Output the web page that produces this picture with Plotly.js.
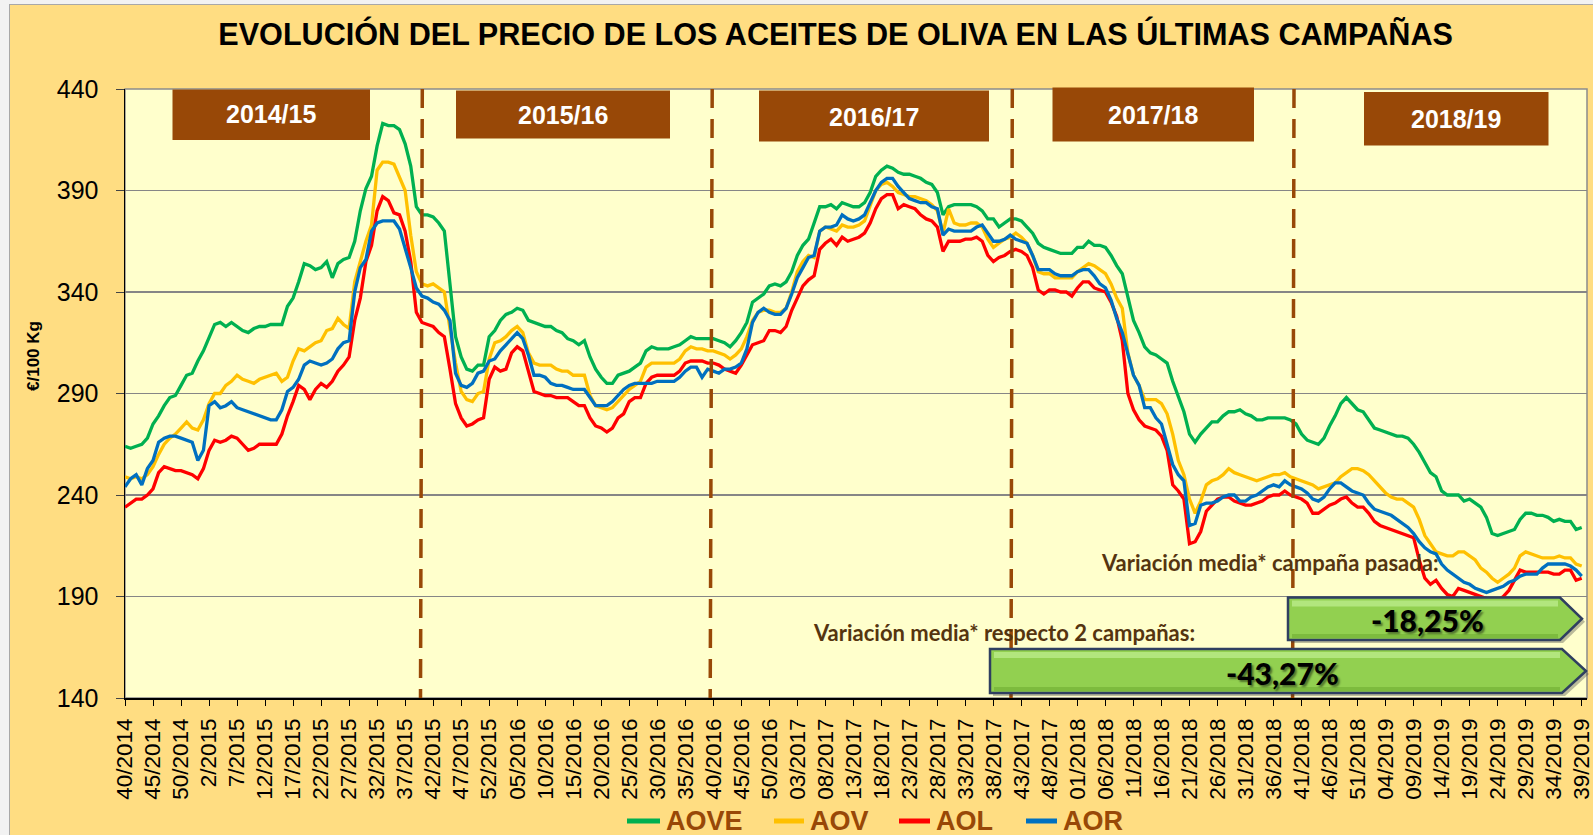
<!DOCTYPE html>
<html><head><meta charset="utf-8">
<script src="https://cdn.plot.ly/plotly-3.0.1.min.js"></script>
<style>
html,body{margin:0;padding:0;background:#F2F2F2;width:1593px;height:835px;overflow:hidden;}
#wrap{position:absolute;left:9px;top:4px;width:1584px;height:831px;border-left:1px solid #A8A8A8;border-top:1px solid #A8A8A8;box-sizing:border-box;}
#chart{width:1583px;height:830px;}
</style></head><body><div id="wrap"><div id="chart"></div></div>
<script>
// ---------- DATA ----------
const tickLabels = ['40/2014','45/2014','50/2014','2/2015','7/2015','12/2015','17/2015','22/2015','27/2015','32/2015','37/2015','42/2015','47/2015','52/2015','05/2016','10/2016','15/2016','20/2016','25/2016','30/2016','35/2016','40/2016','45/2016','50/2016','03/2017','08/2017','13/2017','18/2017','23/2017','28/2017','33/2017','38/2017','43/2017','48/2017','01/2018','06/2018','11/2018','16/2018','21/2018','26/2018','31/2018','36/2018','41/2018','46/2018','51/2018','04/2019','09/2019','14/2019','19/2019','24/2019','29/2019','34/2019','39/2019'];
const campaigns = ['2014/15','2015/16','2016/17','2017/18','2018/19'];
const seriesNames = ['AOVE','AOV','AOL','AOR'];

const aove = [
264,263,264,265,268,275,279,284,288,289,
294,299,300,306,311,318,324,325,323,325,
323,321,320,322,323,323,324,324,324,333,
337,345,354,353,351,352,355,347,354,356,
357,365,380,391,397,412,423,422,422,420,
413,402,382,378,378,377,374,370,345,318,
308,302,301,304,304,318,321,326,329,330,
332,331,326,325,324,323,323,321,320,317,
316,314,316,308,302,298,295,295,299,300,
301,303,305,311,313,312,312,312,313,314,
316,318,317,317,317,317,316,315,313,316,
320,325,335,337,339,343,344,343,345,350,
358,363,366,374,382,382,383,381,384,383,
382,382,384,389,397,400,402,401,399,398,
398,397,396,394,393,389,378,382,383,383,
383,383,382,380,376,376,372,374,376,376,
375,372,369,364,362,361,360,359,359,359,
362,362,365,363,363,362,358,353,349,337,
326,320,313,310,309,307,305,296,288,281,
270,266,270,273,276,276,279,281,281,282,
280,279,277,277,278,278,278,278,277,275,
270,267,266,265,268,274,279,285,288,285,
282,281,277,273,272,271,270,269,269,268,
265,261,256,251,249,242,240,240,240,237,
238,236,234,229,221,220,221,222,223,228,
231,231,230,230,229,227,228,227,227,223,224];

const aov = [
249,248,249,248,250,254,260,265,268,270,
273,276,273,272,277,285,290,290,294,296,
299,297,296,295,297,298,299,300,296,298,
306,312,311,313,315,316,321,322,327,324,
322,345,355,365,373,400,404,404,403,396,
390,368,350,344,343,344,342,340,322,305,
291,287,286,290,291,307,315,316,318,321,
323,320,310,305,304,304,304,302,301,301,
299,299,299,289,284,283,282,283,286,289,
292,294,296,303,305,305,305,305,305,307,
311,313,312,312,311,311,310,309,307,309,
312,318,326,330,331,331,330,330,332,340,
350,355,358,357,370,372,371,370,373,372,
372,373,375,382,390,393,394,392,389,388,
387,387,386,385,383,380,369,381,374,373,
373,374,374,372,366,362,364,366,367,369,
367,364,358,350,349,349,347,347,347,347,
350,352,354,353,351,349,344,337,332,310,
299,294,287,287,287,285,280,270,257,250,
238,231,237,245,247,248,250,253,251,250,
249,248,247,248,249,250,250,251,249,248,
247,246,245,243,244,245,246,249,251,253,
253,252,250,247,244,241,239,238,238,236,
234,228,220,216,212,211,210,210,212,212,
210,208,204,202,199,197,199,201,204,210,
212,211,210,209,209,209,210,209,209,206,205];

const aol = [
234,236,238,238,240,243,251,254,253,252,
252,251,250,248,253,262,267,266,267,269,
268,265,262,263,265,265,265,265,270,279,
286,294,292,287,292,295,293,296,301,304,
308,326,337,355,363,380,387,385,379,378,
370,355,330,325,324,323,320,318,302,285,
278,274,275,277,278,297,303,301,302,310,
313,311,301,291,290,289,289,288,288,288,
286,284,284,278,274,273,271,273,278,280,
286,288,288,295,298,299,299,299,299,301,
305,306,306,306,305,305,304,302,301,300,
304,309,314,315,316,321,321,320,323,331,
337,343,346,348,361,364,366,363,367,365,
366,367,369,374,381,386,388,388,381,383,
382,381,378,376,375,372,360,365,365,365,
366,366,367,365,358,355,357,358,360,361,
360,358,352,341,339,341,341,340,340,338,
342,345,345,342,341,340,335,328,316,290,
282,277,274,273,272,269,262,245,242,238,
216,217,222,232,235,238,239,239,237,236,
235,235,236,237,239,240,240,242,240,239,
238,236,231,231,233,235,236,238,239,236,
234,234,231,227,225,224,223,222,221,220,
219,208,199,196,198,194,191,190,194,193,
192,191,190,189,188,188,190,193,198,203,
202,202,202,202,202,201,201,203,203,198,199];

const aor = [
244,248,250,245,253,257,266,268,269,269,
268,267,266,257,262,284,286,283,284,286,
283,282,281,280,279,278,277,277,282,291,
293,297,304,306,305,304,305,307,312,315,
316,340,352,356,370,374,375,375,375,371,
362,352,342,338,337,335,334,331,326,300,
294,293,295,300,301,306,307,311,314,317,
320,317,309,299,299,298,295,294,294,293,
292,292,292,288,284,284,284,286,289,292,
294,295,295,295,295,296,296,296,296,298,
301,303,303,298,302,301,300,302,302,303,
305,312,325,330,332,330,329,329,332,339,
347,352,357,358,370,372,372,373,378,376,
375,376,378,384,390,394,396,396,392,389,
386,385,384,384,382,381,368,371,370,370,
370,370,372,373,369,365,365,366,368,366,
365,364,358,351,351,351,349,348,348,348,
350,351,351,348,344,342,336,327,320,310,
299,294,283,283,278,275,265,255,250,247,
225,226,235,236,236,237,239,240,240,237,
237,239,240,242,244,245,244,247,245,244,
243,241,238,237,239,243,246,246,244,242,
241,240,236,233,232,231,230,228,226,224,
221,217,214,212,211,206,203,201,199,197,
196,194,193,192,193,194,195,197,198,200,
201,201,201,204,206,206,206,206,205,203,200];

const variationLabels = ['Variación media* campaña pasada:','Variación media* respecto 2 campañas:'];
const variationValues = ['-18,25%','-43,27%'];

// ---------- LAYOUT HELPERS (page pixels -> paper) ----------
const PL=125, PR=1587, PT=89, PB=698;
const xp = px => (px-PL)/(PR-PL);
const yp = py => (PB-py)/(PB-PT);

const weeks = aove.map((_, i) => i);
const colors = ['#00B050','#FFC000','#FF0000','#0070C0'];
const data = [aove, aov, aol, aor].map((ys, k) => ({
  x: weeks, y: ys, type: 'scatter', mode: 'lines', name: seriesNames[k],
  line: {color: colors[k], width: 3.3}, hoverinfo: 'skip', showlegend: false
}));

const brown = '#984807';
const shapes = [];
const annotations = [];

// plot border (top/right gray)
shapes.push({type:'rect', xref:'paper', yref:'paper', x0:0, x1:1, y0:0, y1:1,
  line:{color:'#8C8C8C', width:1.5}, layer:'below'});

// campaign dashed separators
[[422.3,420.5],[712.2,710.2],[1012.3,1011],[1294,1292.6]].forEach(([top,bot]) => {
  shapes.push({type:'line', xref:'paper', yref:'paper', x0:xp(top), y0:1, x1:xp(bot), y1:0,
    line:{color:brown, width:3.5, dash:'19px,11px'}, layer:'above'});
});

// campaign boxes
const boxes = [[172.5,370,89.5,140,114],[456,670,90.5,138.5,115],[759,989,90.5,141.5,116.5],[1052.5,1254,87.5,141.5,115],[1364,1548.5,92,145.5,119]];
boxes.forEach(([x0,x1,y0,y1,ty], k) => {
  shapes.push({type:'rect', xref:'paper', yref:'paper', x0:xp(x0), x1:xp(x1), y0:yp(y1), y1:yp(y0),
    fillcolor:brown, line:{width:0}, layer:'above'});
  annotations.push({xref:'paper', yref:'paper', x:xp((x0+x1)/2), y:yp(ty), text:'<b>'+campaigns[k]+'</b>',
    showarrow:false, xanchor:'center', yanchor:'middle',
    font:{family:'Liberation Sans, Arial, sans-serif', size:25, color:'#FFFFFF'}});
});

// green arrow boxes
function arrowPath(x0, xr, xt, y0, y1){
  const ym = (y0+y1)/2;
  return `M ${xp(x0)},${yp(y0)} L ${xp(xr)},${yp(y0)} L ${xp(xt)},${yp(ym)} L ${xp(xr)},${yp(y1)} L ${xp(x0)},${yp(y1)} Z`;
}
function rectPath(x0, x1, y0, y1){
  return `M ${xp(x0)},${yp(y0)} L ${xp(x1)},${yp(y0)} L ${xp(x1)},${yp(y1)} L ${xp(x0)},${yp(y1)} Z`;
}
const arrows = [[1288,1560,1582,597.5,640,1427,620],[990,1562,1586,649,693,1282,673]];
arrows.forEach(([x0,xr,xt,y0,y1,tx,ty], k) => {
  shapes.push({type:'path', xref:'paper', yref:'paper', path:arrowPath(x0+3,xr+3,xt+3,y0+3,y1+3),
    fillcolor:'rgba(60,60,60,0.35)', line:{width:0}, layer:'above'});
  shapes.push({type:'path', xref:'paper', yref:'paper', path:arrowPath(x0,xr,xt,y0,y1),
    fillcolor:'#92D050', line:{color:'#2F3F60', width:2.5}, layer:'above'});
  shapes.push({type:'path', xref:'paper', yref:'paper', path:rectPath(x0+4, xr-2, y0+3, y0+9),
    fillcolor:'#B2E67E', line:{width:0}, layer:'above'});
  shapes.push({type:'path', xref:'paper', yref:'paper', path:rectPath(x0+4, xr-2, y1-6, y1-2),
    fillcolor:'#7DBB3E', line:{width:0}, layer:'above'});
  annotations.push({xref:'paper', yref:'paper', x:xp(tx), y:yp(ty), text:variationValues[k],
    showarrow:false, xanchor:'center', yanchor:'middle',
    font:{family:'Lato, Open Sans, sans-serif', size:30, color:'#000000', weight:900,
      shadow:'2px 2px 2px rgba(0,0,0,0.45)'}});
});

// variation labels
annotations.push({xref:'paper', yref:'paper', x:xp(1099), y:yp(562), text:'<b>'+variationLabels[0]+'</b>',
  showarrow:false, xanchor:'left', yanchor:'middle', font:{family:'Lato, sans-serif', size:22, color:'#55340F'}});
annotations.push({xref:'paper', yref:'paper', x:xp(811), y:yp(632), text:'<b>'+variationLabels[1]+'</b>',
  showarrow:false, xanchor:'left', yanchor:'middle', font:{family:'Lato, sans-serif', size:22, color:'#55340F'}});

// y axis title
annotations.push({xref:'paper', yref:'paper', x:xp(33), y:yp(356), text:'<b>€/100 Kg</b>', textangle:-90,
  showarrow:false, xanchor:'center', yanchor:'middle', font:{family:'Liberation Sans, Arial, sans-serif', size:17, color:'#000'}});

// legend (drawn below the axis labels)
const legendPos = [[627,660],[774,804],[899,930],[1026,1057]];
const legY = 821;
legendPos.forEach(([lx0, lx1], k) => {
  shapes.push({type:'line', xref:'paper', yref:'paper', x0:xp(lx0), x1:xp(lx1), y0:yp(legY), y1:yp(legY),
    line:{color:colors[k], width:5}});
  annotations.push({xref:'paper', yref:'paper', x:xp(lx1+4), y:yp(legY), text:'<b>'+seriesNames[k]+'</b>',
    showarrow:false, xanchor:'left', yanchor:'middle',
    font:{family:'Liberation Sans, Arial, sans-serif', size:27, color:brown}});
});

const layout = {
  width:1583, height:830,
  margin:{l:115, r:6, t:84, b:137, autoexpand:false},
  paper_bgcolor:'#FFDD82', plot_bgcolor:'#FFFFCC',
  font:{family:'Liberation Sans, Arial, sans-serif', color:'#000'},
  title:{text:'<b>EVOLUCIÓN DEL PRECIO DE LOS ACEITES DE OLIVA EN LAS ÚLTIMAS CAMPAÑAS</b>',
    xref:'paper', x:xp(835.6), xanchor:'center', yref:'container', y:1-(34-5)/830, yanchor:'middle',
    font:{family:'Liberation Sans, Arial, sans-serif', size:30.6, color:'#000'}},
  xaxis:{type:'linear', range:[0, (PR-PL)/5.6027], tickmode:'array',
    tickvals:tickLabels.map((_,k)=>k*5), ticktext:tickLabels, tickangle:-90,
    tickfont:{size:22.5, color:'#000'}, ticks:'outside', ticklen:6, tickcolor:'#000', tickwidth:1,
    ticklabelstandoff:4, ticklabeloverflow:'allow',
    showgrid:false, zeroline:false, showline:true, linecolor:'#000', linewidth:1.5, fixedrange:true},
  yaxis:{range:[140,440], tickmode:'linear', tick0:140, dtick:50,
    tickfont:{size:25, color:'#000'}, ticks:'outside', ticklen:8, tickcolor:'#444', tickwidth:1,
    ticklabelstandoff:12,
    showgrid:true, gridcolor:'#868686', gridwidth:1.5, zeroline:false,
    showline:true, linecolor:'#000', linewidth:1.5, fixedrange:true},
  showlegend:false,
  shapes, annotations
};

Plotly.newPlot('chart', data, layout, {displayModeBar:false, staticPlot:true});
</script></body></html>
